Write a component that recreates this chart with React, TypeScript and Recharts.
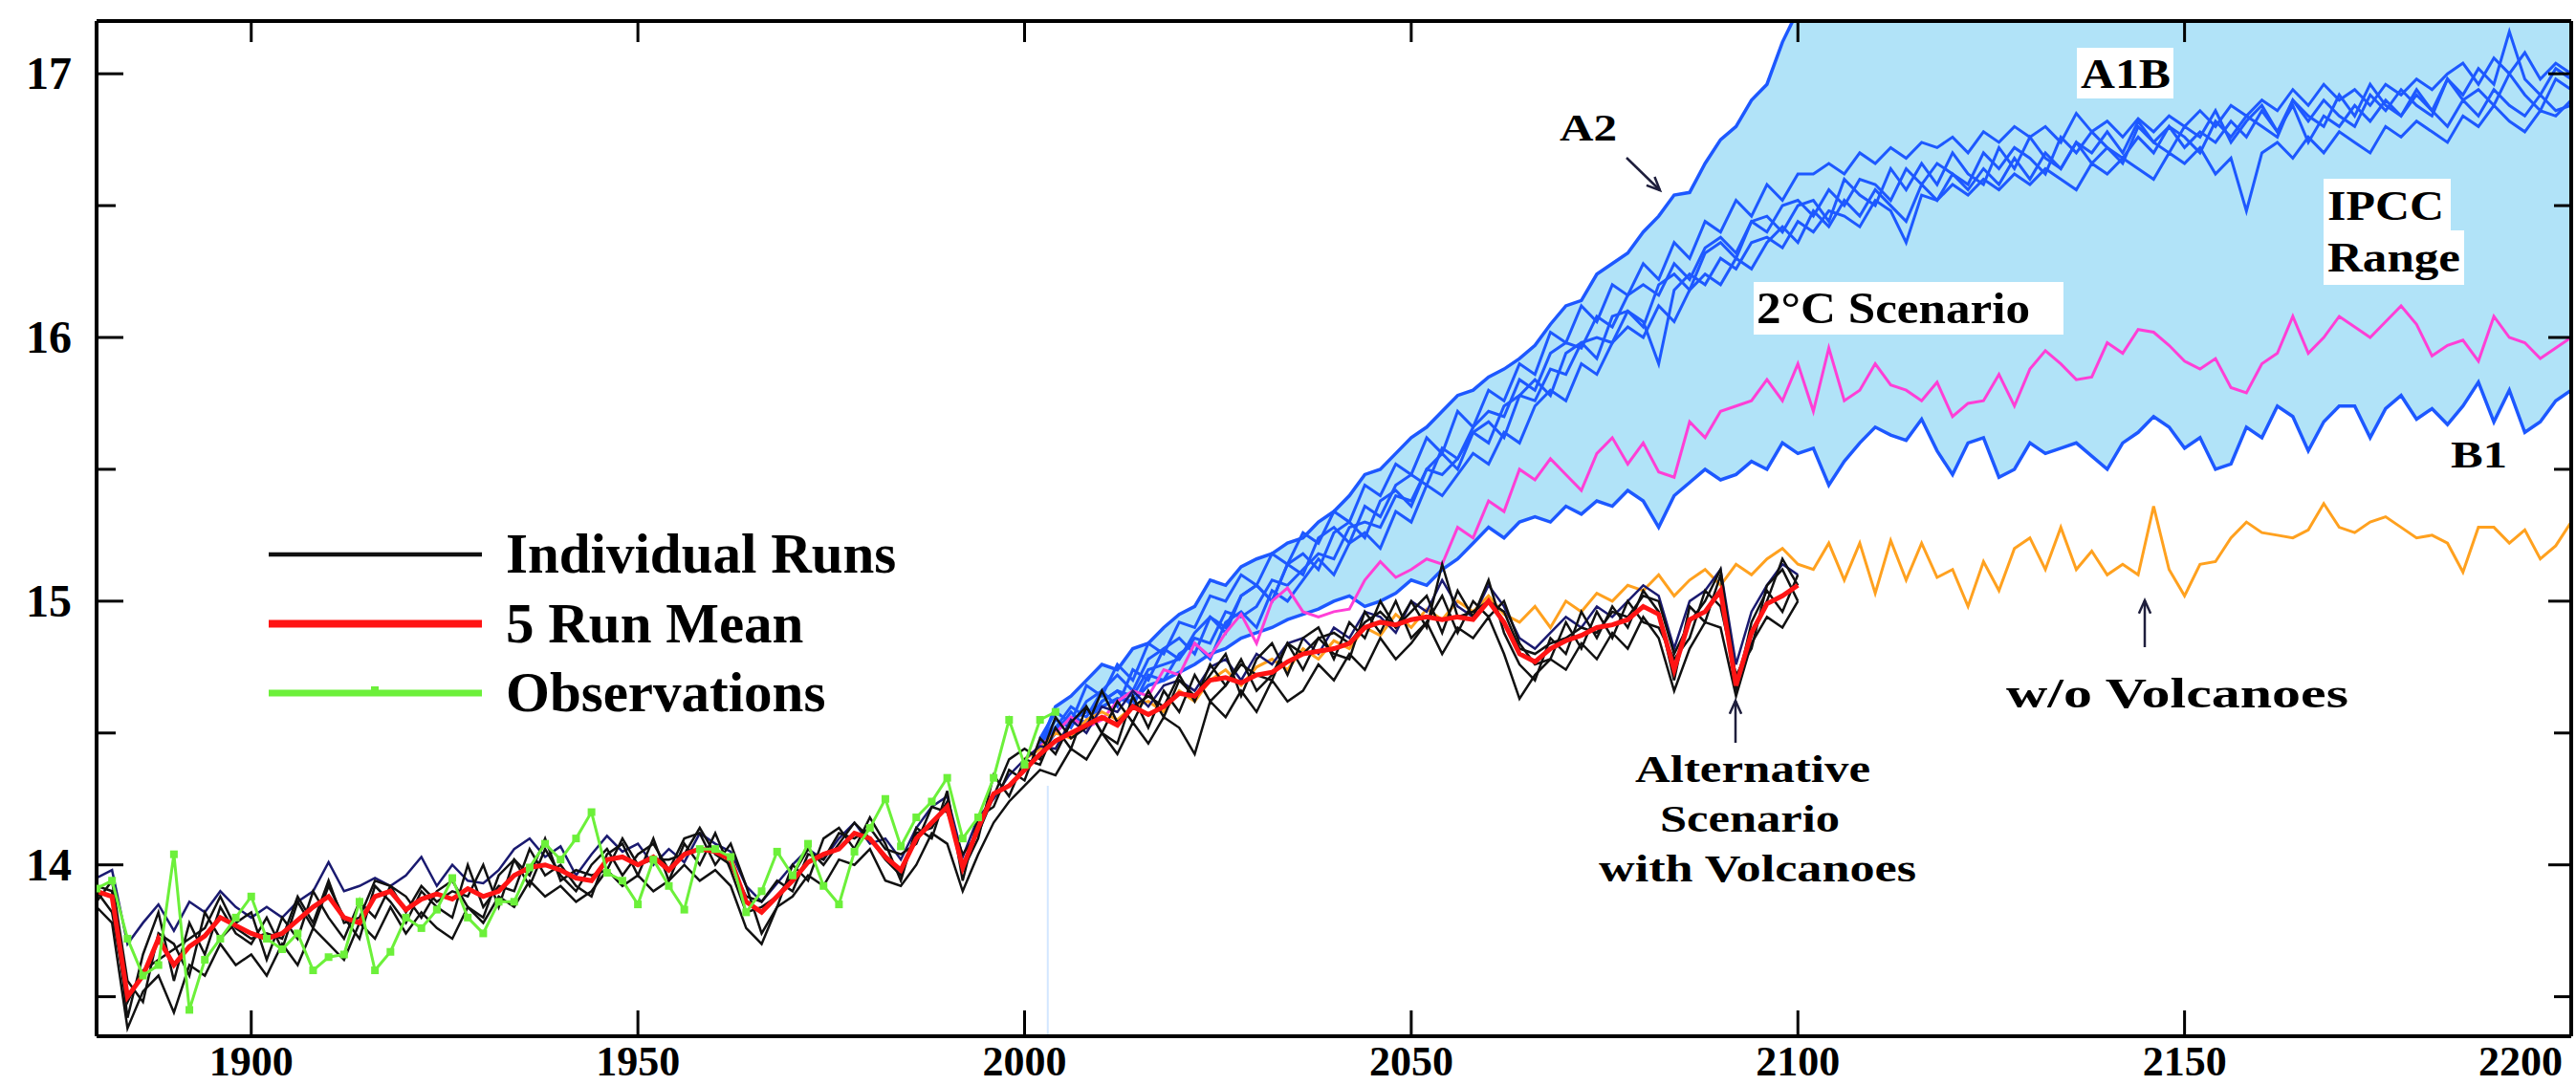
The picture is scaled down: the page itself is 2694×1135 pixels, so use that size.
import React from 'react'
import { ComposedChart, Line, Area, XAxis, YAxis, ReferenceLine, Legend } from 'recharts'

const SERIF = '"Liberation Serif", "DejaVu Serif", "Times New Roman", serif'

const X_TICKS = [1900, 1950, 2000, 2050, 2100, 2150, 2200]
const Y_TICKS = [13.5, 14, 14.5, 15, 15.5, 16, 16.5, 17]
const X_DOMAIN: [number, number] = [1880, 2200]
const Y_DOMAIN: [number, number] = [13.35, 17.2]
const STEP = 2

// model runs with volcanoes, every 2 years 1880-2100
const RUNS_START = 1880
const MEAN_5RUN = [
  13.90, 13.88, 13.50, 13.58, 13.72, 13.62, 13.69, 13.73, 13.80, 13.77,
  13.74, 13.72, 13.74, 13.79, 13.84, 13.88, 13.80, 13.78, 13.88, 13.90,
  13.83, 13.87, 13.89, 13.87, 13.91, 13.88, 13.90, 13.96, 13.99, 14.00,
  13.98, 13.95, 13.94, 14.02, 14.03, 14.00, 14.03, 13.98, 14.04, 14.06,
  14.05, 14.02, 13.86, 13.82, 13.88, 13.94, 14.01, 14.04, 14.06, 14.12,
  14.10, 14.03, 13.98, 14.10, 14.16, 14.22, 13.99, 14.14, 14.27, 14.30,
  14.36, 14.42, 14.47, 14.50, 14.53, 14.56, 14.53, 14.60, 14.57, 14.60,
  14.65, 14.64, 14.70, 14.71, 14.69, 14.72, 14.73, 14.77, 14.80, 14.81,
  14.82, 14.84, 14.90, 14.92, 14.91, 14.93, 14.94, 14.93, 14.94, 14.93,
  15.00, 14.92, 14.80, 14.77, 14.82, 14.85, 14.87, 14.90, 14.91, 14.93,
  14.98, 14.95, 14.74, 14.93, 14.96, 15.04, 14.68, 14.88, 14.99, 15.02,
  15.06,
]
const RUN_1 = [
  13.95, 13.98, 13.70, 13.78, 13.85, 13.75, 13.86, 13.82, 13.90, 13.84,
  13.80, 13.84, 13.80, 13.86, 13.90, 14.01, 13.90, 13.92, 13.95, 13.92,
  13.96, 14.03, 13.92, 14.00, 13.94, 13.93, 13.98, 14.06, 14.10, 14.03,
  14.07, 13.96, 14.04, 14.11, 14.05, 14.08, 14.00, 14.06, 14.01, 14.12,
  14.08, 14.05, 13.92, 13.86, 13.93, 14.00, 14.06, 14.02, 14.10, 14.16,
  14.08, 14.10, 14.02, 14.14, 14.22, 14.26, 14.03, 14.18, 14.25, 14.34,
  14.40, 14.45, 14.44, 14.55, 14.50, 14.60, 14.58, 14.66, 14.60, 14.68,
  14.70, 14.66, 14.75, 14.78, 14.70, 14.80, 14.76, 14.84, 14.86, 14.80,
  14.90, 14.86, 14.96, 14.94, 14.88, 15.00, 14.96, 15.08, 14.98, 14.94,
  15.06, 14.98, 14.86, 14.82, 14.88, 14.94, 14.90, 14.98, 14.94, 15.00,
  15.06, 15.02, 14.82, 15.00, 15.04, 15.12, 14.76, 14.96, 15.06, 15.14,
  15.10,
]
const RUN_2 = [
  13.84, 13.78, 13.38, 13.52, 13.58, 13.44, 13.62, 13.58, 13.70, 13.62,
  13.66, 13.58, 13.70, 13.62, 13.76, 13.70, 13.64, 13.78, 13.72, 13.84,
  13.74, 13.82, 13.76, 13.72, 13.84, 13.78, 13.88, 13.84, 13.94, 13.88,
  13.92, 13.86, 13.90, 13.98, 13.92, 13.96, 13.90, 13.94, 14.00, 13.94,
  13.98, 13.92, 13.76, 13.70, 13.84, 13.88, 13.96, 13.92, 14.02, 14.00,
  14.06, 13.94, 13.92, 14.00, 14.12, 14.08, 13.90, 14.04, 14.16, 14.24,
  14.30, 14.36, 14.34, 14.44, 14.40, 14.50, 14.42, 14.54, 14.46, 14.56,
  14.52, 14.42, 14.62, 14.56, 14.66, 14.58, 14.70, 14.62, 14.66, 14.76,
  14.70, 14.80, 14.74, 14.86, 14.78, 14.84, 14.92, 14.80, 14.90, 14.86,
  14.94, 14.80, 14.63, 14.72, 14.78, 14.74, 14.84, 14.78, 14.88, 14.82,
  14.94, 14.86, 14.66, 14.82, 14.92, 14.90, 14.64, 14.84, 14.94, 14.90,
  15.00,
]
const RUN_3 = [
  13.92, 13.90, 13.42, 13.66, 13.82, 13.56, 13.78, 13.66, 13.84, 13.74,
  13.70, 13.80, 13.68, 13.86, 13.76, 13.92, 13.80, 13.72, 13.92, 13.86,
  13.78, 13.90, 13.84, 13.80, 14.00, 13.84, 13.92, 13.90, 14.06, 13.96,
  14.00, 13.92, 13.88, 14.04, 14.08, 13.96, 14.10, 13.94, 14.08, 14.00,
  14.12, 13.98, 13.82, 13.84, 13.88, 13.96, 14.06, 14.00, 14.08, 14.16,
  14.10, 14.02, 13.96, 14.12, 14.14, 14.24, 13.98, 14.10, 14.34, 14.26,
  14.40, 14.38, 14.52, 14.44, 14.60, 14.50, 14.62, 14.54, 14.66, 14.56,
  14.70, 14.64, 14.72, 14.80, 14.64, 14.78, 14.84, 14.72, 14.86, 14.90,
  14.78, 14.92, 14.86, 15.00, 14.90, 14.96, 15.02, 14.88, 15.04, 14.94,
  15.08, 14.88, 14.76, 14.70, 14.86, 14.80, 14.96, 14.86, 14.98, 14.90,
  15.04, 14.96, 14.70, 14.98, 14.92, 15.10, 14.66, 14.92, 15.04, 14.96,
  15.10,
]
const RUN_4 = [
  13.86, 13.94, 13.56, 13.48, 13.74, 13.70, 13.58, 13.82, 13.72, 13.78,
  13.82, 13.64, 13.80, 13.72, 13.90, 13.80, 13.72, 13.86, 13.80, 13.92,
  13.88, 13.80, 13.90, 13.94, 13.84, 13.80, 13.96, 14.02, 13.92, 14.06,
  13.96, 13.90, 14.00, 14.06, 13.96, 14.04, 14.08, 13.98, 14.10, 14.12,
  14.00, 14.08, 13.92, 13.74, 13.84, 14.00, 13.94, 14.10, 14.14, 14.06,
  14.18, 14.08, 13.94, 14.14, 14.10, 14.28, 13.94, 14.18, 14.22, 14.36,
  14.32, 14.48, 14.42, 14.54, 14.60, 14.50, 14.46, 14.64, 14.52, 14.66,
  14.58, 14.72, 14.62, 14.68, 14.78, 14.66, 14.72, 14.84, 14.74, 14.86,
  14.80, 14.78, 14.96, 14.88, 15.00, 14.86, 14.92, 15.02, 14.88, 15.00,
  14.94, 15.00, 14.84, 14.76, 14.78, 14.92, 14.82, 14.96, 14.86, 15.00,
  14.92, 14.90, 14.78, 14.86, 15.04, 14.98, 14.72, 14.82, 15.06, 15.12,
  15.00,
]
const RUN_5 = [
  13.90, 13.82, 13.48, 13.60, 13.64, 13.68, 13.72, 13.76, 13.88, 13.76,
  13.72, 13.74, 13.72, 13.88, 13.78, 13.94, 13.78, 13.80, 13.94, 13.92,
  13.82, 13.92, 13.86, 13.90, 13.88, 14.00, 13.84, 14.02, 13.96, 14.10,
  13.94, 13.98, 13.96, 13.98, 14.10, 14.00, 14.02, 14.02, 14.04, 14.14,
  14.04, 14.00, 13.88, 13.86, 13.94, 13.90, 14.04, 14.02, 14.12, 14.10,
  14.14, 14.06, 14.04, 14.08, 14.22, 14.20, 14.04, 14.12, 14.26, 14.40,
  14.44, 14.40, 14.56, 14.48, 14.52, 14.66, 14.54, 14.60, 14.64, 14.60,
  14.72, 14.62, 14.76, 14.68, 14.76, 14.72, 14.70, 14.84, 14.80, 14.86,
  14.88, 14.84, 14.92, 14.96, 14.90, 15.00, 14.90, 15.14, 14.94, 14.96,
  15.00, 14.96, 14.82, 14.80, 14.84, 14.86, 14.90, 14.88, 14.96, 14.94,
  15.02, 15.00, 14.80, 14.92, 15.00, 15.12, 14.70, 14.88, 15.00, 15.16,
  15.06,
]

// observations, every 2 years 1880-2004
const OBS_START = 1880
const OBSERVATIONS = [
  13.91, 13.94, 13.72, 13.58, 13.62, 14.04, 13.45, 13.64, 13.72, 13.80,
  13.88, 13.72, 13.68, 13.74, 13.60, 13.65, 13.66, 13.86, 13.60, 13.67,
  13.80, 13.76, 13.83, 13.95, 13.80, 13.74, 13.86, 13.86, 13.99, 14.08,
  14.02, 14.10, 14.20, 13.97, 13.94, 13.85, 14.02, 13.92, 13.83, 14.06,
  14.06, 14.03, 13.82, 13.90, 14.05, 13.96, 14.08, 13.92, 13.85, 14.05,
  14.14, 14.25, 14.07, 14.18, 14.24, 14.33, 14.10, 14.18, 14.33, 14.55,
  14.38, 14.55, 14.58,
]

// scenario runs, every 2 years 2000-2200
const SCEN_START = 2000
const NO_VOLCANOES = [
  14.40, 14.44, 14.50, 14.48, 14.55, 14.58, 14.55, 14.60, 14.62, 14.58,
  14.66, 14.62, 14.70, 14.74, 14.68, 14.75, 14.78, 14.74, 14.82, 14.78,
  14.85, 14.82, 14.90, 14.87, 14.95, 14.90, 14.97, 14.93, 15.00, 14.96,
  15.02, 14.95, 14.92, 14.98, 14.90, 15.00, 14.96, 15.03, 15.00, 15.06,
  15.04, 15.10, 15.02, 15.08, 15.12, 15.06, 15.14, 15.10, 15.16, 15.20,
  15.14, 15.12, 15.22, 15.08, 15.22, 15.03, 15.23, 15.08, 15.22, 15.09,
  15.12, 14.98, 15.15, 15.04, 15.20, 15.24, 15.12, 15.28, 15.12, 15.19,
  15.10, 15.14, 15.10, 15.36, 15.12, 15.02, 15.14, 15.15, 15.24, 15.30,
  15.26, 15.25, 15.24, 15.27, 15.37, 15.28, 15.26, 15.30, 15.32, 15.28,
  15.24, 15.25, 15.22, 15.11, 15.28, 15.28, 15.22, 15.27, 15.16, 15.21,
  15.30,
]
const TWO_DEGREE = [
  14.40, 14.45, 14.50, 14.56, 14.52, 14.55, 14.62, 14.66, 14.64, 14.74,
  14.72, 14.84, 14.79, 14.88, 14.95, 14.84, 15.00, 15.05, 14.96, 14.94,
  14.96, 14.97, 15.08, 15.15, 15.09, 15.12, 15.16, 15.14, 15.28, 15.24,
  15.38, 15.34, 15.50, 15.46, 15.54, 15.48, 15.42, 15.56, 15.62, 15.52,
  15.60, 15.49, 15.47, 15.68, 15.62, 15.72, 15.74, 15.76, 15.84, 15.76,
  15.90, 15.72, 15.96, 15.76, 15.80, 15.90, 15.82, 15.80, 15.76, 15.83,
  15.70, 15.75, 15.76, 15.86, 15.74, 15.88, 15.95, 15.90, 15.84, 15.85,
  15.98, 15.94, 16.03, 16.02, 15.97, 15.91, 15.88, 15.92, 15.81, 15.79,
  15.90, 15.94, 16.08, 15.94, 16.00, 16.08, 16.04, 16.00, 16.06, 16.12,
  16.05, 15.93, 15.97, 15.99, 15.91, 16.08, 16.00, 15.98, 15.92, 15.96,
  16.00,
]

// IPCC scenarios, every 2 years from 2002
const IPCC_START = 2002
const B1 = [
  14.45, 14.52, 14.55, 14.58, 14.60, 14.63, 14.62, 14.68, 14.70, 14.73,
  14.76, 14.80, 14.82, 14.86, 14.88, 14.90, 14.93, 14.95, 14.97, 15.00,
  15.02, 14.98, 15.00, 15.03, 15.08, 15.06, 15.12, 15.16, 15.22, 15.28,
  15.24, 15.30, 15.32, 15.30, 15.36, 15.33, 15.38, 15.36, 15.42, 15.38,
  15.28, 15.40, 15.45, 15.50, 15.46, 15.48, 15.53, 15.50, 15.60, 15.56,
  15.58, 15.44, 15.53, 15.60, 15.66, 15.63, 15.61, 15.69, 15.57, 15.48,
  15.60, 15.62, 15.47, 15.50, 15.60, 15.56, 15.58, 15.60, 15.55, 15.50,
  15.60, 15.64, 15.70, 15.66, 15.58, 15.62, 15.50, 15.52, 15.66, 15.62,
  15.74, 15.70, 15.57, 15.68, 15.74, 15.74, 15.62, 15.73, 15.78, 15.69,
  15.73, 15.67, 15.74, 15.83, 15.68, 15.80, 15.64, 15.68, 15.76, 15.80,
]
const A2 = [
  14.45, 14.60, 14.64, 14.70, 14.76, 14.74, 14.82, 14.84, 14.90, 14.95,
  14.98, 15.08, 15.06, 15.13, 15.16, 15.18, 15.22, 15.24, 15.30, 15.34,
  15.40, 15.48, 15.50, 15.56, 15.62, 15.66, 15.72, 15.78, 15.80, 15.85,
  15.88, 15.92, 15.97, 16.05, 16.12, 16.14, 16.24, 16.28, 16.32, 16.40,
  16.46, 16.54, 16.55, 16.66, 16.75, 16.80, 16.90, 16.96, 17.12, 17.24,
  17.40,
]
const A1B_1 = [
  14.45, 14.55, 14.52, 14.62, 14.66, 14.60, 14.74, 14.70, 14.82, 14.86,
  14.80, 14.94, 14.90, 15.02, 15.06, 15.00, 15.14, 15.10, 15.24, 15.28,
  15.22, 15.36, 15.32, 15.44, 15.48, 15.44, 15.58, 15.54, 15.66, 15.72,
  15.70, 15.84, 15.80, 15.94, 15.98, 15.96, 16.08, 16.04, 16.16, 16.20,
  16.16, 16.28, 16.22, 16.34, 16.38, 16.32, 16.44, 16.40, 16.50, 16.52,
  16.46, 16.56, 16.50, 16.60, 16.58, 16.52, 16.64, 16.58, 16.66, 16.62,
  16.58, 16.70, 16.64, 16.72, 16.68, 16.62, 16.76, 16.70, 16.78, 16.72,
  16.66, 16.80, 16.74, 16.80, 16.76, 16.70, 16.82, 16.76, 16.84, 16.80,
  16.76, 16.90, 16.82, 16.90, 16.84, 16.80, 16.92, 16.86, 16.94, 16.88,
  16.84, 16.98, 16.92, 17.02, 16.96, 17.16, 16.98, 16.92, 17.02, 16.98,
]
const A1B_2 = [
  14.42, 14.50, 14.56, 14.54, 14.62, 14.66, 14.64, 14.74, 14.76, 14.78,
  14.86, 14.84, 14.96, 14.94, 14.98, 15.08, 15.06, 15.12, 15.18, 15.16,
  15.28, 15.30, 15.28, 15.40, 15.38, 15.50, 15.48, 15.54, 15.64, 15.60,
  15.74, 15.78, 15.76, 15.88, 15.86, 15.98, 16.00, 15.98, 16.10, 16.06,
  15.90, 16.18, 16.24, 16.20, 16.30, 16.26, 16.36, 16.38, 16.34, 16.44,
  16.40, 16.48, 16.46, 16.42, 16.52, 16.48, 16.36, 16.54, 16.52, 16.58,
  16.54, 16.60, 16.56, 16.62, 16.58, 16.64, 16.60, 16.56, 16.66, 16.62,
  16.68, 16.64, 16.60, 16.70, 16.66, 16.72, 16.62, 16.68, 16.48, 16.70,
  16.74, 16.68, 16.76, 16.70, 16.78, 16.74, 16.70, 16.80, 16.76, 16.82,
  16.78, 16.74, 16.84, 16.80, 16.88, 16.82, 16.78, 16.86, 16.84, 16.90,
]
const A1B_3 = [
  14.48, 14.58, 14.54, 14.68, 14.64, 14.76, 14.70, 14.84, 14.80, 14.92,
  14.90, 15.02, 15.00, 15.10, 15.06, 15.18, 15.14, 15.26, 15.22, 15.34,
  15.30, 15.44, 15.40, 15.52, 15.48, 15.62, 15.56, 15.72, 15.66, 15.80,
  15.76, 15.90, 15.86, 16.02, 15.98, 16.12, 16.06, 16.20, 16.16, 16.28,
  16.22, 16.36, 16.30, 16.44, 16.40, 16.52, 16.46, 16.58, 16.52, 16.62,
  16.62, 16.66, 16.62, 16.70, 16.66, 16.72, 16.68, 16.74, 16.72, 16.76,
  16.70, 16.78, 16.74, 16.80, 16.76, 16.80, 16.74, 16.85, 16.78, 16.82,
  16.76, 16.83, 16.78, 16.84, 16.80, 16.86, 16.80, 16.88, 16.84, 16.90,
  16.86, 16.94, 16.88, 16.96, 16.90, 16.94, 16.88, 16.96, 16.92, 16.98,
  16.94, 17.00, 17.04, 16.96, 17.06, 17.00, 17.08, 16.98, 17.04, 17.00,
]
const A1B_4 = [
  14.44, 14.52, 14.60, 14.56, 14.66, 14.72, 14.66, 14.78, 14.82, 14.78,
  14.88, 14.94, 14.88, 15.02, 15.06, 15.00, 15.14, 15.18, 15.12, 15.26,
  15.30, 15.24, 15.38, 15.42, 15.36, 15.50, 15.56, 15.50, 15.64, 15.68,
  15.62, 15.78, 15.84, 15.78, 15.94, 15.98, 15.92, 16.08, 16.10, 16.04,
  16.20, 16.24, 16.18, 16.32, 16.36, 16.30, 16.44, 16.46, 16.40, 16.50,
  16.52, 16.44, 16.60, 16.54, 16.50, 16.64, 16.56, 16.66, 16.58, 16.70,
  16.62, 16.58, 16.72, 16.64, 16.76, 16.68, 16.64, 16.74, 16.70, 16.78,
  16.70, 16.82, 16.74, 16.70, 16.80, 16.76, 16.86, 16.74, 16.82, 16.88,
  16.78, 16.90, 16.84, 16.80, 16.92, 16.84, 16.96, 16.88, 16.84, 16.94,
  16.86, 16.98, 16.90, 16.94, 16.88, 17.00, 16.92, 16.86, 16.98, 16.94,
]
const A1B_5 = [
  14.46, 14.50, 14.58, 14.52, 14.62, 14.66, 14.60, 14.72, 14.70, 14.80,
  14.84, 14.78, 14.92, 14.96, 14.90, 15.04, 15.00, 15.08, 15.16, 15.10,
  15.22, 15.26, 15.20, 15.34, 15.30, 15.44, 15.40, 15.48, 15.56, 15.52,
  15.64, 15.60, 15.74, 15.80, 15.76, 15.90, 15.86, 15.98, 16.04, 16.00,
  16.12, 16.06, 16.18, 16.24, 16.20, 16.30, 16.26, 16.36, 16.42, 16.36,
  16.48, 16.42, 16.52, 16.46, 16.56, 16.50, 16.44, 16.58, 16.52, 16.62,
  16.56, 16.64, 16.58, 16.68, 16.60, 16.70, 16.64, 16.74, 16.66, 16.72,
  16.68, 16.76, 16.70, 16.80, 16.72, 16.78, 16.74, 16.82, 16.76, 16.86,
  16.78, 16.88, 16.74, 16.84, 16.80, 16.88, 16.82, 16.90, 16.84, 16.92,
  16.86, 16.80, 16.90, 16.84, 16.94, 16.88, 16.84, 16.92, 16.86, 16.88,
]

const BLACK = '#111111'
const NAVY = '#1a1a70'
const RED = '#ff1414'
const GREEN = '#6cf03a'
const BLUE = '#1d58ff'
const MAGENTA = '#ff3fd6'
const ORANGE = '#ffa11f'
const RANGE_FILL = '#b1e3f8'

const toRows = (start: number, values: number[]) =>
  values.map((v, i) => ({ year: start + i * STEP, v }))

const LEGEND_ORDER = ['Individual Runs', '5 Run Mean', 'Observations']
const LEGEND_WIDTH: Record<string, number> = { 'Individual Runs': 4.5, '5 Run Mean': 8, Observations: 7 }

function LeftTick({ x, y, payload }: any) {
  const major = Number.isInteger(payload.value)
  return (
    <g>
      <line x1={x} y1={y} x2={x + (major ? 28 : 20)} y2={y} stroke="#000" strokeWidth={3} />
      {major && (
        <text x={x - 26} y={y + 16} textAnchor="end" fontFamily={SERIF} fontWeight="bold" fontSize={48} fill="#000">
          {payload.value}
        </text>
      )}
    </g>
  )
}

function RightTick({ x, y, payload }: any) {
  const major = Number.isInteger(payload.value)
  return <line x1={x} y1={y} x2={x - (major ? 24 : 18)} y2={y} stroke="#000" strokeWidth={3} />
}

function BottomTick({ x, y, payload }: any) {
  const last = payload.value === X_DOMAIN[1]
  return (
    <g>
      <line x1={x} y1={y} x2={x} y2={y - 27} stroke="#000" strokeWidth={3} />
      <text
        x={last ? x - 9 : x}
        y={y + 41}
        textAnchor={last ? 'end' : 'middle'}
        fontFamily={SERIF}
        fontWeight="bold"
        fontSize={44}
        fill="#000"
      >
        {payload.value}
      </text>
    </g>
  )
}

function TopTick({ x, y }: any) {
  return <line x1={x} y1={y} x2={x} y2={y + 22} stroke="#000" strokeWidth={3} />
}

function ObsDot({ cx, cy, index }: any) {
  if (cx == null || cy == null) return <g key={index} />
  return <rect key={index} x={cx - 4} y={cy - 4} width={8} height={8} fill={GREEN} />
}

function LegendBox({ payload }: any) {
  const list = payload ?? []
  return (
    <svg width={720} height={240}>
      {LEGEND_ORDER.map((name, i) => {
        const item = list.find((p: any) => p.value === name)
        const color = item?.color ?? [BLACK, RED, GREEN][i]
        const y = 60 + i * 72.5
        return (
          <g key={name}>
            <line x1={31} y1={y} x2={254} y2={y} stroke={color} strokeWidth={LEGEND_WIDTH[name]} />
            {name === 'Observations' && <rect x={138} y={y - 7} width={8} height={8} fill={color} />}
            <text x={279} y={y + 19} fontFamily={SERIF} fontWeight="bold" fontSize={59} fill="#000">
              {name}
            </text>
          </g>
        )
      })}
    </svg>
  )
}

function Arrow({ x1, y1, x2, y2 }: { x1: number; y1: number; x2: number; y2: number }) {
  const a = Math.atan2(y2 - y1, x2 - x1)
  const h = 15
  const p1 = `${x2 - h * Math.cos(a - 0.42)},${y2 - h * Math.sin(a - 0.42)}`
  const p2 = `${x2 - h * Math.cos(a + 0.42)},${y2 - h * Math.sin(a + 0.42)}`
  return (
    <g stroke="#1e1e3c" strokeWidth={2.5} fill="none">
      <line x1={x1} y1={y1} x2={x2} y2={y2} />
      <polyline points={`${p1} ${x2},${y2} ${p2}`} />
    </g>
  )
}

// labels drawn over the plot (kept in a separate layer so the range fill cannot cover them)
function Annotations() {
  const t = { fontFamily: SERIF, fontWeight: 700, fill: '#000', lengthAdjust: 'spacingAndGlyphs' as const }
  return (
    <svg
      width={2694}
      height={1135}
      style={{ position: 'absolute', left: 0, top: 0, pointerEvents: 'none' }}
    >
      <text {...t} x={1631} y={147} fontSize={40} textLength={60}>A2</text>
      <Arrow x1={1701} y1={165} x2={1736} y2={199} />

      <rect x={2172} y={50} width={101} height={53} fill="#fff" />
      <text {...t} x={2176} y={92} fontSize={44} textLength={94}>A1B</text>

      <rect x={2430} y={187} width={133} height={58} fill="#fff" />
      <rect x={2430} y={241} width={147} height={57} fill="#fff" />
      <text {...t} x={2434} y={230} fontSize={44} textLength={122}>IPCC</text>
      <text {...t} x={2434} y={284} fontSize={44} textLength={139}>Range</text>

      <rect x={1834} y={295} width={324} height={55} fill="#fff" />
      <text {...t} x={1837} y={338} fontSize={46} textLength={286}>2°C Scenario</text>

      <text {...t} x={2563} y={489} fontSize={40} textLength={59}>B1</text>

      <Arrow x1={1815} y1={777} x2={1815} y2={733} />
      <text {...t} x={1833} y={818} fontSize={40} textAnchor="middle" textLength={246}>Alternative</text>
      <text {...t} x={1830} y={870} fontSize={40} textAnchor="middle" textLength={188}>Scenario</text>
      <text {...t} x={1838} y={922} fontSize={40} textAnchor="middle" textLength={332}>with Volcanoes</text>

      <Arrow x1={2243} y1={677} x2={2243} y2={628} />
      <text {...t} x={2277} y={740} fontSize={45} textAnchor="middle" textLength={358}>w/o Volcanoes</text>
    </svg>
  )
}

export default function App() {
  const runs = [RUN_1, RUN_2, RUN_3, RUN_4, RUN_5]
  const a1b = [A1B_1, A1B_2, A1B_3, A1B_4, A1B_5]
  // IPCC range: between B1 and A2 (A2 leaves the frame, so the top is the frame)
  const range = B1.map((lo, i) => ({ year: IPCC_START + i * STEP, range: [lo, A2[i] ?? Y_DOMAIN[1]] }))

  return (
    <div style={{ position: 'absolute', left: 0, top: 0, width: 2694, height: 1135, background: '#fff' }}>
      <ComposedChart width={2694} height={1135} margin={{ top: 0, right: 0, bottom: 0, left: 0 }}>
        <XAxis
          type="number"
          dataKey="year"
          domain={X_DOMAIN}
          ticks={X_TICKS}
          interval={0}
          allowDataOverflow
          height={51}
          tickSize={0}
          tickMargin={0}
          tickLine={false}
          axisLine={{ stroke: '#000', strokeWidth: 4 }}
          tick={<BottomTick />}
        />
        <XAxis
          xAxisId="top"
          orientation="top"
          type="number"
          dataKey="year"
          domain={X_DOMAIN}
          ticks={X_TICKS}
          interval={0}
          allowDataOverflow
          height={22}
          tickSize={0}
          tickMargin={0}
          tickLine={false}
          axisLine={{ stroke: '#000', strokeWidth: 4 }}
          tick={<TopTick />}
        />
        <YAxis
          type="number"
          domain={Y_DOMAIN}
          ticks={Y_TICKS}
          interval={0}
          allowDataOverflow
          width={101}
          tickSize={0}
          tickMargin={0}
          tickLine={false}
          axisLine={{ stroke: '#000', strokeWidth: 4 }}
          tick={<LeftTick />}
        />
        <YAxis
          yAxisId="right"
          orientation="right"
          type="number"
          domain={Y_DOMAIN}
          ticks={Y_TICKS}
          interval={0}
          allowDataOverflow
          width={5}
          tickSize={0}
          tickMargin={0}
          tickLine={false}
          axisLine={{ stroke: '#000', strokeWidth: 4 }}
          tick={<RightTick />}
        />

        <ReferenceLine
          segment={[{ x: 2003, y: Y_DOMAIN[0] }, { x: 2003, y: 14.3 }]}
          stroke="#d3e6ff"
          strokeWidth={2}
        />

        <Area
          data={range}
          dataKey="range"
          type="linear"
          stroke="none"
          fill={RANGE_FILL}
          fillOpacity={1}
          legendType="none"
          isAnimationActive={false}
        />

        {a1b.map((vals, k) => (
          <Line
            key={`a1b-${k}`}
            data={toRows(IPCC_START, vals)}
            dataKey="v"
            type="linear"
            stroke={BLUE}
            strokeWidth={3}
            dot={false}
            activeDot={false}
            legendType="none"
            isAnimationActive={false}
          />
        ))}
        <Line data={toRows(IPCC_START, A2)} dataKey="v" type="linear" stroke={BLUE} strokeWidth={3.5}
          dot={false} activeDot={false} legendType="none" isAnimationActive={false} />
        <Line data={toRows(IPCC_START, B1)} dataKey="v" type="linear" stroke={BLUE} strokeWidth={3.5}
          dot={false} activeDot={false} legendType="none" isAnimationActive={false} />
        <Line data={toRows(SCEN_START, TWO_DEGREE)} dataKey="v" type="linear" stroke={MAGENTA} strokeWidth={3}
          dot={false} activeDot={false} legendType="none" isAnimationActive={false} />
        <Line data={toRows(SCEN_START, NO_VOLCANOES)} dataKey="v" type="linear" stroke={ORANGE} strokeWidth={3}
          dot={false} activeDot={false} legendType="none" isAnimationActive={false} />

        {runs.map((vals, k) => (
          <Line
            key={`run-${k}`}
            name={k === 1 ? 'Individual Runs' : undefined}
            data={toRows(RUNS_START, vals)}
            dataKey="v"
            type="linear"
            stroke={k === 0 ? NAVY : BLACK}
            strokeWidth={2.5}
            dot={false}
            activeDot={false}
            legendType={k === 1 ? 'line' : 'none'}
            isAnimationActive={false}
          />
        ))}
        <Line name="5 Run Mean" data={toRows(RUNS_START, MEAN_5RUN)} dataKey="v" type="linear" stroke={RED}
          strokeWidth={5} dot={false} activeDot={false} isAnimationActive={false} />
        <Line name="Observations" data={toRows(OBS_START, OBSERVATIONS)} dataKey="v" type="linear" stroke={GREEN}
          strokeWidth={3} dot={(p: any) => <ObsDot key={p.index} {...p} />} activeDot={false} isAnimationActive={false} />

        <Legend
          layout="vertical"
          align="center"
          verticalAlign="middle"
          wrapperStyle={{ left: 250, top: 520, width: 720, height: 240 }}
          content={<LegendBox />}
        />
      </ComposedChart>
      <Annotations />
    </div>
  )
}
